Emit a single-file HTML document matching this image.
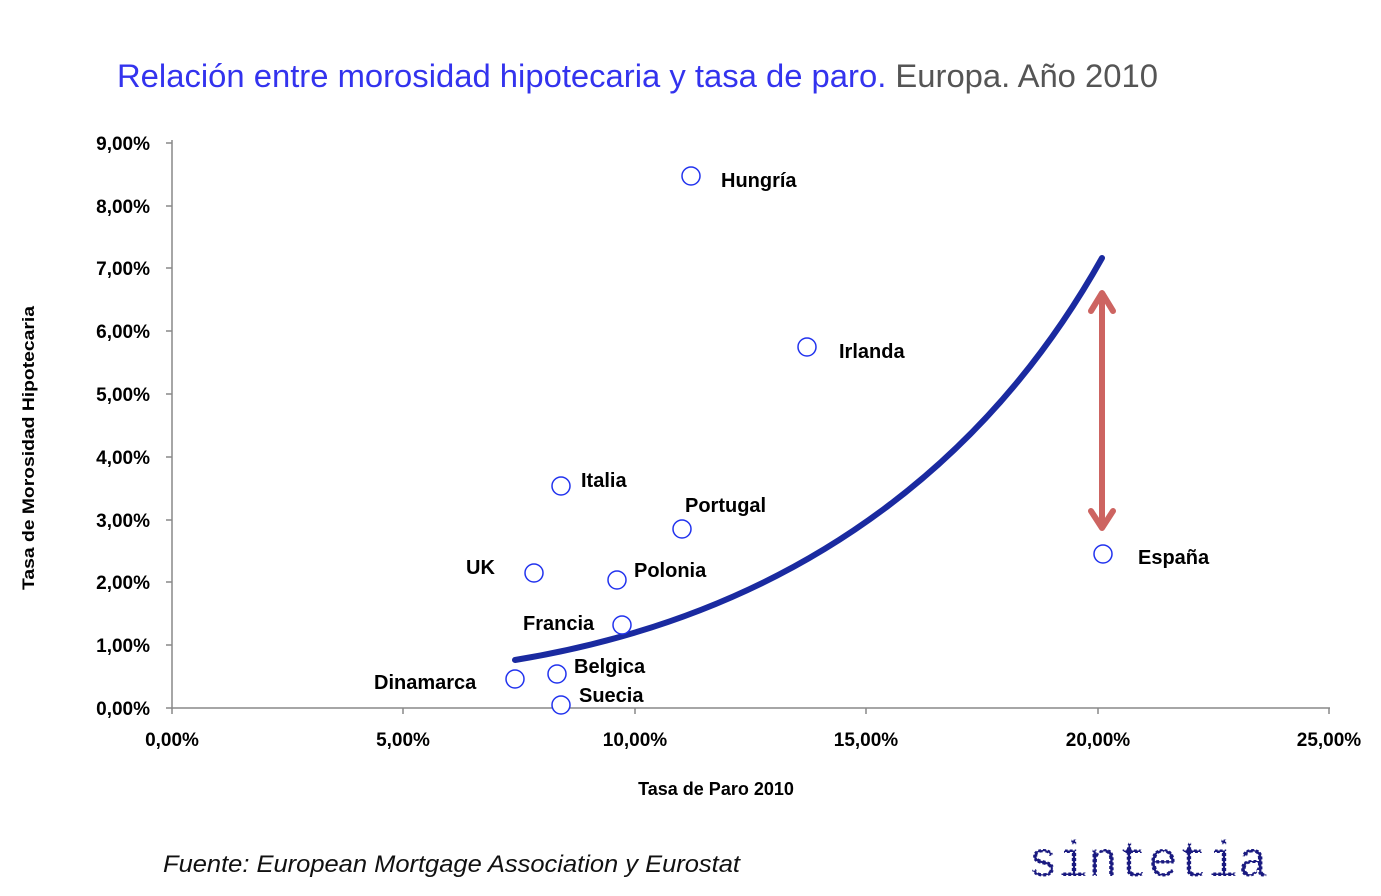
<!DOCTYPE html>
<html><head><meta charset="utf-8"><style>
body{margin:0;background:#fff;width:1381px;height:891px;overflow:hidden;font-family:"Liberation Sans",sans-serif}
</style></head><body>
<svg width="1381" height="891" xmlns="http://www.w3.org/2000/svg" font-family="Liberation Sans, sans-serif">
<text x="117" y="87" font-size="32" fill="#3333ee" textLength="1041" lengthAdjust="spacingAndGlyphs">Relación entre morosidad hipotecaria y tasa de paro. <tspan fill="#555">Europa. Año 2010</tspan></text>
<g stroke="#888" stroke-width="1.5" fill="none">
<line x1="172" y1="140" x2="172" y2="709"/>
<line x1="172" y1="708" x2="1330" y2="708"/>
<g>
<line x1="166" y1="143" x2="172" y2="143"/><line x1="166" y1="206" x2="172" y2="206"/><line x1="166" y1="268" x2="172" y2="268"/><line x1="166" y1="331" x2="172" y2="331"/><line x1="166" y1="394" x2="172" y2="394"/><line x1="166" y1="457" x2="172" y2="457"/><line x1="166" y1="520" x2="172" y2="520"/><line x1="166" y1="582" x2="172" y2="582"/><line x1="166" y1="645" x2="172" y2="645"/><line x1="166" y1="708" x2="172" y2="708"/>
<line x1="172" y1="708" x2="172" y2="714"/><line x1="403" y1="708" x2="403" y2="714"/><line x1="635" y1="708" x2="635" y2="714"/><line x1="866" y1="708" x2="866" y2="714"/><line x1="1098" y1="708" x2="1098" y2="714"/><line x1="1329" y1="708" x2="1329" y2="714"/>
</g></g>
<g font-size="19" font-weight="bold" fill="#000" text-anchor="end">
<text x="150" y="150">9,00%</text><text x="150" y="213">8,00%</text><text x="150" y="275">7,00%</text><text x="150" y="338">6,00%</text><text x="150" y="401">5,00%</text><text x="150" y="464">4,00%</text><text x="150" y="527">3,00%</text><text x="150" y="589">2,00%</text><text x="150" y="652">1,00%</text><text x="150" y="715">0,00%</text>
</g>
<g font-size="19" font-weight="bold" fill="#000" text-anchor="middle">
<text x="172" y="746">0,00%</text><text x="403" y="746">5,00%</text><text x="635" y="746">10,00%</text><text x="866" y="746">15,00%</text><text x="1098" y="746">20,00%</text><text x="1329" y="746">25,00%</text>
<text x="716" y="795" font-size="18">Tasa de Paro 2010</text>
<text transform="translate(34,448) rotate(-90)" font-size="17" textLength="284" lengthAdjust="spacingAndGlyphs">Tasa de Morosidad Hipotecaria</text>
</g>
<path d="M515,660 C820,610 1000,440 1102,258" stroke="#1a2aa0" stroke-width="6" fill="none" stroke-linecap="round"/>
<g stroke="#cd6461" stroke-width="6" fill="none" stroke-linecap="round" stroke-linejoin="round">
<line x1="1102" y1="296" x2="1102" y2="524"/>
<polyline points="1091,311 1102,293 1113,311"/>
<polyline points="1091,511 1102,528 1113,511"/>
</g>
<g fill="#fff" stroke="#2233ee" stroke-width="1.5">
<circle cx="691" cy="176" r="9"/><circle cx="807" cy="347" r="9"/><circle cx="561" cy="486" r="9"/><circle cx="682" cy="529" r="9"/><circle cx="534" cy="573" r="9"/><circle cx="617" cy="580" r="9"/><circle cx="622" cy="625" r="9"/><circle cx="1103" cy="554" r="9"/><circle cx="557" cy="674" r="9"/><circle cx="515" cy="679" r="9"/><circle cx="561" cy="705" r="9"/>
</g>
<g font-size="20" font-weight="bold" fill="#000">
<text x="721" y="187">Hungría</text><text x="839" y="358">Irlanda</text><text x="581" y="487">Italia</text><text x="685" y="512">Portugal</text><text x="466" y="574">UK</text><text x="634" y="577">Polonia</text><text x="523" y="630">Francia</text><text x="1138" y="564">España</text><text x="574" y="673">Belgica</text><text x="374" y="689">Dinamarca</text><text x="579" y="702">Suecia</text>
</g>
<text x="163" y="872" font-size="24" font-style="italic" fill="#111" textLength="577" lengthAdjust="spacingAndGlyphs">Fuente: European Mortgage Association y Eurostat</text>
<text x="1028" y="876" font-size="50" fill="#1a1a80" font-family="Liberation Mono, monospace" stroke="#fff" stroke-width="2" stroke-dasharray="2 3" textLength="240" lengthAdjust="spacingAndGlyphs">sintetia</text>
</svg>
</body></html>
